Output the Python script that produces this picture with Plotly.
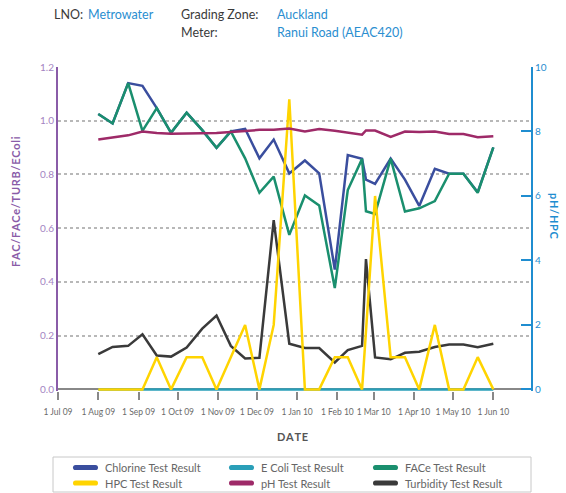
import plotly.graph_objects as go

# Sample dates (shared by all test series)
dates = [
    "2009-08-01", "2009-08-12", "2009-08-24", "2009-09-04", "2009-09-15",
    "2009-09-26", "2009-10-08", "2009-10-20", "2009-10-31", "2009-11-11",
    "2009-11-22", "2009-12-03", "2009-12-14", "2009-12-26", "2010-01-07",
    "2010-01-18", "2010-01-30", "2010-02-09", "2010-02-20", "2010-02-23",
    "2010-03-02", "2010-03-14", "2010-03-25", "2010-04-05", "2010-04-17",
    "2010-04-28", "2010-05-09", "2010-05-20", "2010-06-01",
]

# Left axis series (FAC / FACe / TURB / EColi)
chlorine = [1.025, 0.99, 1.14, 1.13, 1.047, 0.955, 1.03, 0.965, 0.899, 0.96,
            0.97, 0.86, 0.93, 0.804, 0.852, 0.804, 0.446, 0.872, 0.858, 0.781,
            0.765, 0.859, 0.781, 0.683, 0.821, 0.803, 0.803, 0.734, 0.901]
face = [1.025, 0.99, 1.14, 0.962, 1.047, 0.955, 1.03, 0.965, 0.899, 0.96,
        0.86, 0.732, 0.792, 0.575, 0.722, 0.685, 0.377, 0.742, 0.858, 0.663,
        0.653, 0.859, 0.662, 0.674, 0.701, 0.803, 0.803, 0.732, 0.901]
turbidity = [0.131, 0.158, 0.162, 0.205, 0.126, 0.122, 0.156, 0.226, 0.275, 0.162,
             0.115, 0.118, 0.63, 0.17, 0.154, 0.154, 0.10, 0.146, 0.162, 0.485,
             0.119, 0.112, 0.136, 0.14, 0.158, 0.167, 0.167, 0.157, 0.17]
ecoli = [0] * len(dates)

# Right axis series (pH / HPC)
ph = [7.75, 7.82, 7.88, 8.0, 7.95, 7.93, 7.93, 7.94, 7.95, 7.98,
      8.02, 8.05, 8.05, 8.09, 8.0, 8.08, 8.02, 7.97, 7.9, 8.03,
      8.03, 7.83, 8.0, 7.98, 8.0, 7.92, 7.92, 7.82, 7.85]
hpc = [0, 0, 0, 0, 1, 0, 1, 1, 0, 1,
       2, 0, 2, 9, 0, 0, 1, 1, 0, None,
       6, 1, 1, 0, 2, 0, 0, 1, 0]

series = [
    ("Chlorine Test Result", chlorine, "y", "#3a4e9e"),
    ("E Coli Test Result", ecoli, "y", "#2a9fb8"),
    ("FACe Test Result", face, "y", "#1a8f6e"),
    ("HPC Test Result", hpc, "y2", "#ffd400"),
    ("pH Test Result", ph, "y2", "#9e2a68"),
    ("Turbidity Test Result", turbidity, "y", "#3a3a3a"),
]

W, H = 566, 493
ML, MR, MT, MB = 58, 35, 67, 102
PW, PH = W - ML - MR, H - MT - MB


def px(x):
    return (x - ML) / PW


def py(y):
    return (H - MB - y) / PH


fig = go.Figure()
for name, vals, axis, color in series:
    fig.add_trace(go.Scatter(
        x=dates, y=vals, yaxis=axis, mode="lines", name=name,
        line=dict(color=color, width=2.5), connectgaps=True, showlegend=False,
    ))

font_family = "Lato, 'Open Sans', sans-serif"
purple = "#8a5ca8"
blue = "#1f8dd0"

fig.update_layout(
    width=W, height=H,
    margin=dict(l=ML, r=MR, t=MT, b=MB),
    paper_bgcolor="white", plot_bgcolor="white",
    font=dict(family=font_family, size=10, color="#666"),
    showlegend=False,
    xaxis=dict(
        type="date", range=["2009-07-01", "2010-06-30"], automargin=False,
        tick0="2009-07-01", dtick="M1", tickformat="%-d %b %y", tickangle=0,
        showgrid=False, showline=False, zeroline=False,
        ticks="outside", ticklen=8, tickwidth=1.5, tickcolor="#888",
        ticklabelstandoff=5,
        tickfont=dict(size=8.5, color="#6a6a6a"),
    ),
    yaxis=dict(
        range=[-0.006, 1.2], dtick=0.2, tickformat=".1f", automargin=False,
        showgrid=True, gridcolor="#b8b8b8", gridwidth=2, griddash="dot",
        zeroline=True, zerolinecolor="#888", zerolinewidth=1.5,
        showline=True, linecolor=purple, linewidth=2,
        ticks="", tickfont=dict(size=10, color="#a384c2"),
    ),
    yaxis2=dict(
        range=[-0.05, 10], dtick=2, overlaying="y", side="right", automargin=False,
        showgrid=False, zeroline=False,
        showline=True, linecolor=blue, linewidth=2,
        ticks="inside", ticklen=10, tickwidth=1.5, tickcolor=blue,
        tickfont=dict(size=10, color=blue),
    ),
)

# Header block
hdr = 12.5
label_c = "#3a3a3a"
val_c = "#2a8ed0"
anns = [
    ("LNO:", 52, 15, label_c),
    ("Metrowater", 86, 15, val_c),
    ("Grading Zone:", 179, 15, label_c),
    ("Auckland", 275, 15, val_c),
    ("Meter:", 179, 33, label_c),
    ("Ranui Road (AEAC420)", 275, 33, val_c),
]
for text, x, y, c in anns:
    fig.add_annotation(
        text=text, x=px(x), y=py(y), xref="paper", yref="paper",
        xanchor="left", yanchor="middle", showarrow=False,
        font=dict(size=hdr, color=c, family=font_family),
    )

# Axis titles
hair = "\u200a"
fig.add_annotation(
    text="<b>" + hair.join("FAC/FACe/TURB/EColi") + "</b>",
    x=px(15), y=py(202), xref="paper", yref="paper",
    xanchor="center", yanchor="middle", textangle=-90, showarrow=False,
    font=dict(size=11, color=purple, family=font_family),
)
fig.add_annotation(
    text="<b>" + hair.join("pH/HPC") + "</b>",
    x=px(555), y=py(216), xref="paper", yref="paper",
    xanchor="center", yanchor="middle", textangle=90, showarrow=False,
    font=dict(size=11, color=blue, family=font_family),
)
fig.add_annotation(
    text="<b>" + hair.join("DATE") + "</b>",
    x=px(292), y=py(436), xref="paper", yref="paper",
    xanchor="center", yanchor="middle", showarrow=False,
    font=dict(size=11, color="#555", family=font_family),
)

# Legend box with pill-shaped keys, three columns by two rows
fig.add_shape(
    type="rect", xref="paper", yref="paper",
    x0=px(53), x1=px(531), y0=py(457), y1=py(492),
    line=dict(color="#c8c8c8", width=1), fillcolor="rgba(0,0,0,0)",
)
col_x = [73, 229, 373]
row_y = [467.5, 483]
key_len, r = 25, 2.6
for i, (name, _, _, color) in enumerate(series):
    cx = col_x[i % 3]
    cy = row_y[i // 3]
    a, b = cx + r, cx + key_len - r
    pts = lambda x, y: f"{px(x):.5f},{py(y):.5f}"
    path = (
        f"M {pts(a, cy - r)} L {pts(b, cy - r)} "
        f"Q {pts(b + r, cy - r)} {pts(b + r, cy)} "
        f"Q {pts(b + r, cy + r)} {pts(b, cy + r)} "
        f"L {pts(a, cy + r)} "
        f"Q {pts(a - r, cy + r)} {pts(a - r, cy)} "
        f"Q {pts(a - r, cy - r)} {pts(a, cy - r)} Z"
    )
    fig.add_shape(type="path", xref="paper", yref="paper", path=path,
                  fillcolor=color, line=dict(width=0))
    fig.add_annotation(
        text=name, x=px(cx + 30), y=py(cy), xref="paper", yref="paper",
        xanchor="left", yanchor="middle", showarrow=False,
        font=dict(size=11, color="#666", family=font_family),
    )

fig.write_html("out.html")
